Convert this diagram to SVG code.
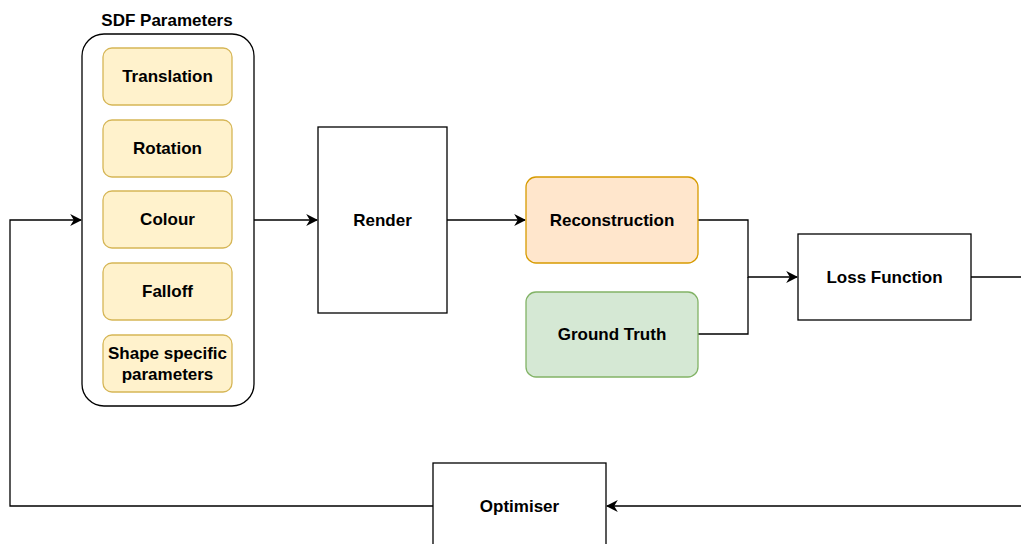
<svg xmlns="http://www.w3.org/2000/svg" width="1021" height="544" viewBox="0 0 1021 544">
<style>
text{font-family:"Liberation Sans",Arial,sans-serif;font-weight:bold;font-size:17px;fill:#000;text-anchor:middle;dominant-baseline:central}
.w{fill:#fff;stroke:#000;stroke-width:1.3}
.y{fill:#fff2cc;stroke:#d6b656;stroke-width:1.3}
.c{fill:none;stroke:#000;stroke-width:1.3}
</style>
<defs>
<marker id="a" viewBox="0 0 10 10" refX="9" refY="5" markerWidth="12" markerHeight="12" markerUnits="userSpaceOnUse" orient="auto">
<path d="M0,0 L10,5 L0,10 L3,5 Z" fill="#000"/>
</marker>
</defs>
<rect width="1021" height="544" fill="#fff"/>
<g id="connectors">
<path class="c" d="M254,220 H317" marker-end="url(#a)"/>
<path class="c" d="M447,220 H525" marker-end="url(#a)"/>
<path class="c" d="M698,220 H748 V277 H797" marker-end="url(#a)"/>
<path class="c" d="M698,334 H748 V277"/>
<path class="c" d="M971,277 H1025 V506 H607" marker-end="url(#a)"/>
<path class="c" d="M433,506 H10 V220 H81" marker-end="url(#a)"/>
</g>
<g id="sdf">
<rect class="w" x="82" y="34" width="172" height="372" rx="22"/>
<text x="167" y="20">SDF Parameters</text>
</g>
<g id="translation"><rect class="y" x="103" y="48" width="129" height="57" rx="9"/><text x="167.5" y="76.5">Translation</text></g>
<g id="rotation"><rect class="y" x="103" y="120" width="129" height="57" rx="9"/><text x="167.5" y="148">Rotation</text></g>
<g id="colour"><rect class="y" x="103" y="191" width="129" height="57" rx="9"/><text x="167.5" y="219.5">Colour</text></g>
<g id="falloff"><rect class="y" x="103" y="263" width="129" height="57" rx="9"/><text x="167.5" y="291.5">Falloff</text></g>
<g id="shape"><rect class="y" x="103" y="335" width="129" height="57" rx="9"/><text x="167.5" y="353">Shape specific</text><text x="167.5" y="374">parameters</text></g>
<g id="render"><rect class="w" x="318" y="127" width="129" height="186"/><text x="382.5" y="220">Render</text></g>
<g id="reconstruction"><rect x="526" y="177" width="172" height="86" rx="10" fill="#ffe6cc" stroke="#d79b00" stroke-width="1.3"/><text x="612" y="220">Reconstruction</text></g>
<g id="groundtruth"><rect x="526" y="292" width="172" height="85" rx="10" fill="#d5e8d4" stroke="#82b366" stroke-width="1.3"/><text x="612" y="334.5">Ground Truth</text></g>
<g id="loss"><rect class="w" x="798" y="234" width="173" height="86"/><text x="884.5" y="277">Loss Function</text></g>
<g id="optimiser"><rect class="w" x="433" y="463" width="173" height="86"/><text x="519.5" y="506">Optimiser</text></g>
</svg>
